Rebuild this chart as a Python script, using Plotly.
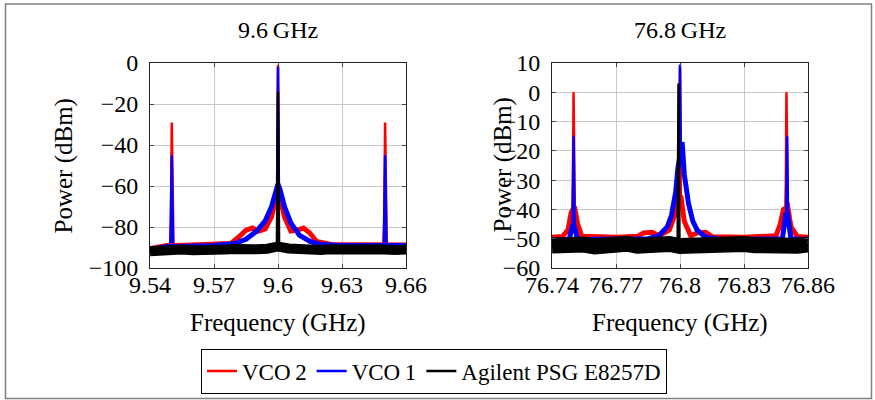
import plotly.graph_objects as go

FONT = "Liberation Serif, Times New Roman, Times, serif"
RED = "#ff0000"
BLUE = "#0000ff"
BLACK = "#000000"

# ---------------- 9.6 GHz panel ----------------
L_X_TICKS = [9.54, 9.57, 9.6, 9.63, 9.66]
L_X_TICKTEXT = ["9.54", "9.57", "9.6", "9.63", "9.66"]
L_Y_TICKS = [0, -20, -40, -60, -80, -100]

# VCO 2 (red): noise/skirt band and spikes
L_RED_BAND_X = [9.540, 9.548, 9.553, 9.565, 9.578, 9.582, 9.585, 9.588, 9.591, 9.594, 9.597,
                9.5995, 9.6005, 9.603, 9.606, 9.609, 9.612, 9.615, 9.618, 9.625, 9.640, 9.660]
L_RED_BAND_Y = [-90.5, -89, -89, -88.8, -88, -84.5, -81.5, -80.5, -82, -81, -75,
                -63, -63, -75, -82, -81.5, -80.5, -83, -87, -88.5, -88.8, -88.8]
L_RED_SPK_X = [9.5494, 9.5498, 9.5502, 9.5506, 9.5510, None, 9.5996, 9.6, 9.6004, None,
               9.6494, 9.6498, 9.6502, 9.6506, 9.6510]
L_RED_SPK_Y = [-88, -78, -29, -78, -88, None, -60, -1, -60, None,
               -88, -78, -29, -78, -88]

# VCO 1 (blue)
L_BLUE_BAND_X = [9.540, 9.548, 9.553, 9.570, 9.580, 9.585, 9.590, 9.594, 9.597, 9.599, 9.600,
                 9.601, 9.603, 9.606, 9.610, 9.615, 9.620, 9.630, 9.660]
L_BLUE_BAND_Y = [-91, -89.5, -89.5, -89, -88, -86, -82, -77, -70, -62, -59,
                 -62, -70, -78, -84, -87, -88.5, -89, -89]
L_BLUE_SPK_X = [9.5496, 9.5502, 9.5508, None, 9.5996, 9.6, 9.6004, None, 9.6496, 9.6502, 9.6508]
L_BLUE_SPK_Y = [-88, -45, -88, None, -58, -2, -58, None, -88, -45, -88]

# Agilent PSG E8257D (black)
L_BLK_FLOOR_X = [9.540, 9.545, 9.550, 9.555, 9.560, 9.565, 9.570, 9.575, 9.580, 9.585, 9.590,
                 9.595, 9.600, 9.605, 9.610, 9.615, 9.620, 9.625, 9.630, 9.635, 9.640, 9.645,
                 9.650, 9.655, 9.660]
L_BLK_FLOOR_Y = [-91.8, -91.2, -91.5, -91, -91.3, -90.8, -91.2, -91, -90.7, -91.3, -90.9,
                 -90.6, -89.5, -90.5, -91, -90.6, -91.2, -90.9, -91.3, -91, -90.8, -91.4,
                 -91, -91.2, -91]
L_BLK_SPK_X = [9.5995, 9.6, 9.6005]
L_BLK_SPK_Y = [-88, -14, -88]

# ---------------- 76.8 GHz panel ----------------
R_X_TICKS = [76.74, 76.77, 76.8, 76.83, 76.86]
R_X_TICKTEXT = ["76.74", "76.77", "76.8", "76.83", "76.86"]
R_Y_TICKS = [10, 0, -10, -20, -30, -40, -50, -60]

R_RED_BAND_X = [76.740, 76.745, 76.7475, 76.749, 76.7505, 76.752, 76.754, 76.770, 76.780, 76.783,
                76.787, 76.790, 76.795, 76.798, 76.7995, 76.8005, 76.802, 76.805, 76.808,
                76.812, 76.815, 76.830, 76.845, 76.847, 76.8485, 76.8505, 76.852, 76.855, 76.860]
R_RED_BAND_Y = [-49.5, -49.2, -47, -41, -39, -45, -49.2, -49.5, -49.2, -48,
                -47.8, -49, -47, -41, -36, -36, -44, -49, -48,
                -47.8, -49.3, -49.5, -49, -45, -40, -39, -46, -49.2, -49.5]
R_RED_SPK_X = [76.7494, 76.7498, 76.7501, 76.7504, 76.7508, None, 76.7996, 76.8, 76.8004, None,
               76.8492, 76.8496, 76.8499, 76.8502, 76.8506]
R_RED_SPK_Y = [-46, -31, 0, -31, -46, None, -36, 8.5, -36, None,
               -46, -31, 0, -31, -46]

R_BLUE_BAND_X = [76.740, 76.748, 76.7495, 76.7505, 76.752, 76.785, 76.790, 76.794, 76.796, 76.798,
                 76.799, 76.800, 76.801, 76.802, 76.804, 76.806, 76.808, 76.812, 76.820, 76.848,
                 76.8495, 76.8505, 76.852, 76.860]
R_BLUE_BAND_Y = [-50.5, -50.3, -46, -46, -50.3, -50, -49, -46, -42, -34,
                 -26, -20, -17, -28, -38, -44, -47, -49.5, -50.3, -50,
                 -42, -42, -50, -50.3]
R_BLUE_SPK_X = [76.7496, 76.7501, 76.7506, None, 76.7996, 76.8, 76.8004, None, 76.8497, 76.8502, 76.8507]
R_BLUE_SPK_Y = [-46, -15, -46, None, -20, 9.5, -20, None, -46, -15, -46]

R_BLK_FLOOR_X = [76.740, 76.745, 76.750, 76.755, 76.760, 76.765, 76.770, 76.775, 76.780, 76.785,
                 76.790, 76.795, 76.800, 76.805, 76.810, 76.815, 76.820, 76.825, 76.830, 76.835,
                 76.840, 76.845, 76.850, 76.855, 76.860]
R_BLK_FLOOR_Y = [-52.3, -51.8, -52.5, -52, -52.6, -51.9, -52.2, -51.7, -52.4, -52,
                 -52.3, -51.8, -52.5, -52.2, -51.9, -52.6, -52, -52.3, -51.8, -52.2,
                 -52.5, -51.9, -52.1, -52.4, -52]
R_BLK_SPK_X = [76.7989, 76.7993, 76.7997]
R_BLK_SPK_Y = [-50, 3, -50]

fig = go.Figure()


def add_panel(xa, ya, red_band, red_spk, blue_band, blue_spk, blk_floor, blk_spk,
              band_w, floor_w, legend):
    fig.add_trace(go.Scatter(x=red_band[0], y=red_band[1], mode="lines", xaxis=xa, yaxis=ya,
                             line=dict(color=RED, width=band_w), showlegend=False,
                             legendgroup="r", hoverinfo="skip"))
    fig.add_trace(go.Scatter(x=red_spk[0], y=red_spk[1], mode="lines", xaxis=xa, yaxis=ya,
                             line=dict(color=RED, width=2.5), name="VCO\u20092",
                             showlegend=legend, legendgroup="r", connectgaps=False))
    fig.add_trace(go.Scatter(x=blue_band[0], y=blue_band[1], mode="lines", xaxis=xa, yaxis=ya,
                             line=dict(color=BLUE, width=band_w), showlegend=False,
                             legendgroup="b", hoverinfo="skip"))
    fig.add_trace(go.Scatter(x=blue_spk[0], y=blue_spk[1], mode="lines", xaxis=xa, yaxis=ya,
                             line=dict(color=BLUE, width=2.5), name="VCO\u20091",
                             showlegend=legend, legendgroup="b", connectgaps=False))
    fig.add_trace(go.Scatter(x=blk_floor[0], y=blk_floor[1], mode="lines", xaxis=xa, yaxis=ya,
                             line=dict(color=BLACK, width=floor_w), showlegend=False,
                             legendgroup="k", hoverinfo="skip"))
    fig.add_trace(go.Scatter(x=blk_spk[0], y=blk_spk[1], mode="lines", xaxis=xa, yaxis=ya,
                             line=dict(color=BLACK, width=2.5), name="Agilent PSG E8257D",
                             showlegend=legend, legendgroup="k"))


add_panel("x", "y", (L_RED_BAND_X, L_RED_BAND_Y), (L_RED_SPK_X, L_RED_SPK_Y),
          (L_BLUE_BAND_X, L_BLUE_BAND_Y), (L_BLUE_SPK_X, L_BLUE_SPK_Y),
          (L_BLK_FLOOR_X, L_BLK_FLOOR_Y), (L_BLK_SPK_X, L_BLK_SPK_Y), 5, 10, True)
add_panel("x2", "y2", (R_RED_BAND_X, R_RED_BAND_Y), (R_RED_SPK_X, R_RED_SPK_Y),
          (R_BLUE_BAND_X, R_BLUE_BAND_Y), (R_BLUE_SPK_X, R_BLUE_SPK_Y),
          (R_BLK_FLOOR_X, R_BLK_FLOOR_Y), (R_BLK_SPK_X, R_BLK_SPK_Y), 5, 16, False)

W, H = 875, 400
TICKFONT = dict(family=FONT, size=24, color="black")


def ax(rng, vals, text, dom, anchor, standoff):
    return dict(range=rng, tickvals=vals, ticktext=text, domain=dom, anchor=anchor,
                showgrid=True, gridcolor="#c8c8c8", gridwidth=1,
                showline=True, mirror="ticks", linecolor="#222222", linewidth=1,
                ticks="inside", ticklen=4, tickcolor="#444444", automargin=False,
                zeroline=False, tickfont=TICKFONT, ticklabelstandoff=standoff, fixedrange=True)


ydom = [1 - 268 / H, 1 - 63 / H]
fig.update_layout(
    width=W, height=H,
    margin=dict(l=0, r=0, t=0, b=0, autoexpand=False),
    paper_bgcolor="white", plot_bgcolor="white",
    font=dict(family=FONT, color="black"),
    xaxis=ax([9.54, 9.66], L_X_TICKS, L_X_TICKTEXT, [150 / W, 406 / W], "y", -5),
    yaxis=ax([-100, 0], L_Y_TICKS, None, ydom, "x", 6),
    xaxis2=ax([76.74, 76.86], R_X_TICKS, R_X_TICKTEXT, [552 / W, 808 / W], "y2", -5),
    yaxis2=ax([-60, 10], R_Y_TICKS, None, ydom, "x2", 6),
    legend=dict(orientation="h", x=434 / W, xanchor="center", y=1 - 371 / H, yanchor="middle",
                bordercolor="black", borderwidth=1, font=dict(family=FONT, size=23),
                itemwidth=30, bgcolor="white", traceorder="normal"),
    showlegend=True,
)

ann = []
for txt, xc in [("9.6\u2009GHz", 278), ("76.8\u2009GHz", 680)]:
    ann.append(dict(text=txt, x=xc / W, y=1 - 30 / H, xref="paper", yref="paper",
                    showarrow=False, font=dict(family=FONT, size=24), xanchor="center", yanchor="middle"))
for xc in [278, 680]:
    ann.append(dict(text="Frequency (GHz)", x=xc / W, y=1 - 323 / H, xref="paper", yref="paper",
                    showarrow=False, font=dict(family=FONT, size=25), xanchor="center", yanchor="middle"))
for xc in [63, 502]:
    ann.append(dict(text="Power (dBm)", x=xc / W, y=1 - 165.5 / H, xref="paper", yref="paper",
                    textangle=-90, showarrow=False, font=dict(family=FONT, size=25),
                    xanchor="center", yanchor="middle"))
fig.update_layout(annotations=ann)

fig.add_shape(type="rect", xref="paper", yref="paper",
              x0=5.5 / W, x1=871.5 / W, y0=1 - 398.5 / H, y1=1 - 4 / H,
              line=dict(color="#808080", width=1.5), fillcolor="rgba(0,0,0,0)", layer="below")

fig.write_html("out.html")
